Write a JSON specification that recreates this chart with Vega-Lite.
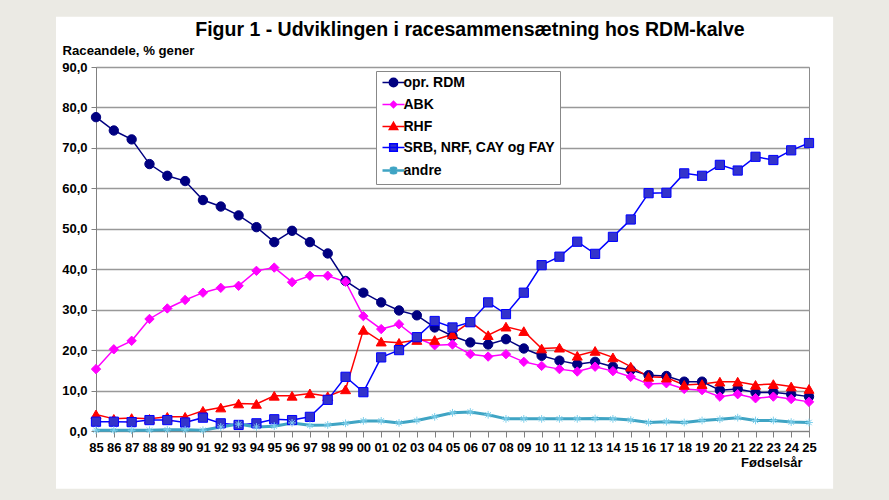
{
  "$schema": "https://vega.github.io/schema/vega-lite/v6.json",
  "width": 713,
  "height": 364,
  "autosize": {"type": "none"},
  "padding": {"left": 96, "top": 67, "right": 80, "bottom": 69},
  "background": "#ffffff",
  "config": {
    "font": "Liberation Sans",
    "view": {"stroke": "#8c8c8c", "strokeWidth": 1},
    "axisX": {
      "labelOverlap": false,
      "labelFlush": false,
      "labelAngle": 0,
      "labelFontSize": 13,
      "labelFontWeight": "bold",
      "labelColor": "#000000",
      "labelBaseline": "alphabetic",
      "labelPadding": 14,
      "tickSize": 6,
      "tickColor": "#808080",
      "domainColor": "#808080",
      "grid": false
    },
    "axisY": {
      "labelOverlap": false,
      "labelFontSize": 13,
      "labelFontWeight": "bold",
      "labelColor": "#000000",
      "labelPadding": 4,
      "tickSize": 5,
      "tickColor": "#808080",
      "domainColor": "#808080",
      "grid": true,
      "gridColor": "#999999",
      "gridWidth": 1.5
    }
  },
  "data": {
    "values": [
      {"year": 1985, "series": "opr. RDM", "share": 77.6},
      {"year": 1986, "series": "opr. RDM", "share": 74.3},
      {"year": 1987, "series": "opr. RDM", "share": 72.1},
      {"year": 1988, "series": "opr. RDM", "share": 66.0},
      {"year": 1989, "series": "opr. RDM", "share": 63.1},
      {"year": 1990, "series": "opr. RDM", "share": 61.8},
      {"year": 1991, "series": "opr. RDM", "share": 57.1},
      {"year": 1992, "series": "opr. RDM", "share": 55.5},
      {"year": 1993, "series": "opr. RDM", "share": 53.3},
      {"year": 1994, "series": "opr. RDM", "share": 50.4},
      {"year": 1995, "series": "opr. RDM", "share": 46.7},
      {"year": 1996, "series": "opr. RDM", "share": 49.5},
      {"year": 1997, "series": "opr. RDM", "share": 46.7},
      {"year": 1998, "series": "opr. RDM", "share": 43.9},
      {"year": 1999, "series": "opr. RDM", "share": 37.1},
      {"year": 2000, "series": "opr. RDM", "share": 34.2},
      {"year": 2001, "series": "opr. RDM", "share": 31.8},
      {"year": 2002, "series": "opr. RDM", "share": 29.8},
      {"year": 2003, "series": "opr. RDM", "share": 28.6},
      {"year": 2004, "series": "opr. RDM", "share": 25.6},
      {"year": 2005, "series": "opr. RDM", "share": 23.5},
      {"year": 2006, "series": "opr. RDM", "share": 21.9},
      {"year": 2007, "series": "opr. RDM", "share": 21.4},
      {"year": 2008, "series": "opr. RDM", "share": 22.7},
      {"year": 2009, "series": "opr. RDM", "share": 20.4},
      {"year": 2010, "series": "opr. RDM", "share": 18.6},
      {"year": 2011, "series": "opr. RDM", "share": 17.4},
      {"year": 2012, "series": "opr. RDM", "share": 16.5},
      {"year": 2013, "series": "opr. RDM", "share": 17.1},
      {"year": 2014, "series": "opr. RDM", "share": 15.9},
      {"year": 2015, "series": "opr. RDM", "share": 15.1},
      {"year": 2016, "series": "opr. RDM", "share": 13.8},
      {"year": 2017, "series": "opr. RDM", "share": 13.6},
      {"year": 2018, "series": "opr. RDM", "share": 12.2},
      {"year": 2019, "series": "opr. RDM", "share": 12.2},
      {"year": 2020, "series": "opr. RDM", "share": 10.1},
      {"year": 2021, "series": "opr. RDM", "share": 10.4},
      {"year": 2022, "series": "opr. RDM", "share": 9.5},
      {"year": 2023, "series": "opr. RDM", "share": 9.6},
      {"year": 2024, "series": "opr. RDM", "share": 9.1},
      {"year": 2025, "series": "opr. RDM", "share": 8.5},
      {"year": 1985, "series": "ABK", "share": 15.3},
      {"year": 1986, "series": "ABK", "share": 20.2},
      {"year": 1987, "series": "ABK", "share": 22.3},
      {"year": 1988, "series": "ABK", "share": 27.7},
      {"year": 1989, "series": "ABK", "share": 30.3},
      {"year": 1990, "series": "ABK", "share": 32.4},
      {"year": 1991, "series": "ABK", "share": 34.2},
      {"year": 1992, "series": "ABK", "share": 35.4},
      {"year": 1993, "series": "ABK", "share": 35.9},
      {"year": 1994, "series": "ABK", "share": 39.6},
      {"year": 1995, "series": "ABK", "share": 40.4},
      {"year": 1996, "series": "ABK", "share": 36.8},
      {"year": 1997, "series": "ABK", "share": 38.4},
      {"year": 1998, "series": "ABK", "share": 38.4},
      {"year": 1999, "series": "ABK", "share": 36.9},
      {"year": 2000, "series": "ABK", "share": 28.4},
      {"year": 2001, "series": "ABK", "share": 25.2},
      {"year": 2002, "series": "ABK", "share": 26.4},
      {"year": 2003, "series": "ABK", "share": 23.0},
      {"year": 2004, "series": "ABK", "share": 21.2},
      {"year": 2005, "series": "ABK", "share": 21.4},
      {"year": 2006, "series": "ABK", "share": 19.0},
      {"year": 2007, "series": "ABK", "share": 18.4},
      {"year": 2008, "series": "ABK", "share": 19.0},
      {"year": 2009, "series": "ABK", "share": 17.1},
      {"year": 2010, "series": "ABK", "share": 16.1},
      {"year": 2011, "series": "ABK", "share": 15.3},
      {"year": 2012, "series": "ABK", "share": 14.7},
      {"year": 2013, "series": "ABK", "share": 15.9},
      {"year": 2014, "series": "ABK", "share": 14.8},
      {"year": 2015, "series": "ABK", "share": 13.4},
      {"year": 2016, "series": "ABK", "share": 11.6},
      {"year": 2017, "series": "ABK", "share": 11.8},
      {"year": 2018, "series": "ABK", "share": 10.4},
      {"year": 2019, "series": "ABK", "share": 10.1},
      {"year": 2020, "series": "ABK", "share": 8.5},
      {"year": 2021, "series": "ABK", "share": 9.1},
      {"year": 2022, "series": "ABK", "share": 8.1},
      {"year": 2023, "series": "ABK", "share": 8.5},
      {"year": 2024, "series": "ABK", "share": 7.9},
      {"year": 2025, "series": "ABK", "share": 7.2},
      {"year": 1985, "series": "RHF", "share": 4.1},
      {"year": 1986, "series": "RHF", "share": 3.0},
      {"year": 1987, "series": "RHF", "share": 3.2},
      {"year": 1988, "series": "RHF", "share": 3.0},
      {"year": 1989, "series": "RHF", "share": 3.5},
      {"year": 1990, "series": "RHF", "share": 3.5},
      {"year": 1991, "series": "RHF", "share": 5.0},
      {"year": 1992, "series": "RHF", "share": 5.8},
      {"year": 1993, "series": "RHF", "share": 6.8},
      {"year": 1994, "series": "RHF", "share": 6.7},
      {"year": 1995, "series": "RHF", "share": 8.7},
      {"year": 1996, "series": "RHF", "share": 8.7},
      {"year": 1997, "series": "RHF", "share": 9.3},
      {"year": 1998, "series": "RHF", "share": 8.6},
      {"year": 1999, "series": "RHF", "share": 10.3},
      {"year": 2000, "series": "RHF", "share": 25.0},
      {"year": 2001, "series": "RHF", "share": 22.1},
      {"year": 2002, "series": "RHF", "share": 21.8},
      {"year": 2003, "series": "RHF", "share": 22.5},
      {"year": 2004, "series": "RHF", "share": 22.5},
      {"year": 2005, "series": "RHF", "share": 23.9},
      {"year": 2006, "series": "RHF", "share": 27.0},
      {"year": 2007, "series": "RHF", "share": 23.7},
      {"year": 2008, "series": "RHF", "share": 25.8},
      {"year": 2009, "series": "RHF", "share": 24.7},
      {"year": 2010, "series": "RHF", "share": 20.4},
      {"year": 2011, "series": "RHF", "share": 20.6},
      {"year": 2012, "series": "RHF", "share": 18.6},
      {"year": 2013, "series": "RHF", "share": 19.8},
      {"year": 2014, "series": "RHF", "share": 18.2},
      {"year": 2015, "series": "RHF", "share": 15.9},
      {"year": 2016, "series": "RHF", "share": 13.4},
      {"year": 2017, "series": "RHF", "share": 13.2},
      {"year": 2018, "series": "RHF", "share": 11.4},
      {"year": 2019, "series": "RHF", "share": 11.6},
      {"year": 2020, "series": "RHF", "share": 12.2},
      {"year": 2021, "series": "RHF", "share": 12.2},
      {"year": 2022, "series": "RHF", "share": 11.4},
      {"year": 2023, "series": "RHF", "share": 11.6},
      {"year": 2024, "series": "RHF", "share": 11.0},
      {"year": 2025, "series": "RHF", "share": 10.4},
      {"year": 1985, "series": "SRB, NRF, CAY og FAY", "share": 2.3},
      {"year": 1986, "series": "SRB, NRF, CAY og FAY", "share": 2.3},
      {"year": 1987, "series": "SRB, NRF, CAY og FAY", "share": 2.2},
      {"year": 1988, "series": "SRB, NRF, CAY og FAY", "share": 2.7},
      {"year": 1989, "series": "SRB, NRF, CAY og FAY", "share": 2.7},
      {"year": 1990, "series": "SRB, NRF, CAY og FAY", "share": 2.1},
      {"year": 1991, "series": "SRB, NRF, CAY og FAY", "share": 3.3},
      {"year": 1992, "series": "SRB, NRF, CAY og FAY", "share": 1.9},
      {"year": 1993, "series": "SRB, NRF, CAY og FAY", "share": 1.5},
      {"year": 1994, "series": "SRB, NRF, CAY og FAY", "share": 1.9},
      {"year": 1995, "series": "SRB, NRF, CAY og FAY", "share": 2.9},
      {"year": 1996, "series": "SRB, NRF, CAY og FAY", "share": 2.7},
      {"year": 1997, "series": "SRB, NRF, CAY og FAY", "share": 3.5},
      {"year": 1998, "series": "SRB, NRF, CAY og FAY", "share": 7.7},
      {"year": 1999, "series": "SRB, NRF, CAY og FAY", "share": 13.4},
      {"year": 2000, "series": "SRB, NRF, CAY og FAY", "share": 9.6},
      {"year": 2001, "series": "SRB, NRF, CAY og FAY", "share": 18.2},
      {"year": 2002, "series": "SRB, NRF, CAY og FAY", "share": 20.0},
      {"year": 2003, "series": "SRB, NRF, CAY og FAY", "share": 23.2},
      {"year": 2004, "series": "SRB, NRF, CAY og FAY", "share": 27.2},
      {"year": 2005, "series": "SRB, NRF, CAY og FAY", "share": 25.6},
      {"year": 2006, "series": "SRB, NRF, CAY og FAY", "share": 26.9},
      {"year": 2007, "series": "SRB, NRF, CAY og FAY", "share": 31.8},
      {"year": 2008, "series": "SRB, NRF, CAY og FAY", "share": 28.9},
      {"year": 2009, "series": "SRB, NRF, CAY og FAY", "share": 34.2},
      {"year": 2010, "series": "SRB, NRF, CAY og FAY", "share": 41.0},
      {"year": 2011, "series": "SRB, NRF, CAY og FAY", "share": 43.1},
      {"year": 2012, "series": "SRB, NRF, CAY og FAY", "share": 46.8},
      {"year": 2013, "series": "SRB, NRF, CAY og FAY", "share": 43.8},
      {"year": 2014, "series": "SRB, NRF, CAY og FAY", "share": 48.0},
      {"year": 2015, "series": "SRB, NRF, CAY og FAY", "share": 52.3},
      {"year": 2016, "series": "SRB, NRF, CAY og FAY", "share": 58.8},
      {"year": 2017, "series": "SRB, NRF, CAY og FAY", "share": 58.9},
      {"year": 2018, "series": "SRB, NRF, CAY og FAY", "share": 63.7},
      {"year": 2019, "series": "SRB, NRF, CAY og FAY", "share": 63.1},
      {"year": 2020, "series": "SRB, NRF, CAY og FAY", "share": 65.8},
      {"year": 2021, "series": "SRB, NRF, CAY og FAY", "share": 64.4},
      {"year": 2022, "series": "SRB, NRF, CAY og FAY", "share": 67.8},
      {"year": 2023, "series": "SRB, NRF, CAY og FAY", "share": 67.0},
      {"year": 2024, "series": "SRB, NRF, CAY og FAY", "share": 69.4},
      {"year": 2025, "series": "SRB, NRF, CAY og FAY", "share": 71.2},
      {"year": 1985, "series": "andre", "share": 0.2},
      {"year": 1986, "series": "andre", "share": 0.2},
      {"year": 1987, "series": "andre", "share": 0.2},
      {"year": 1988, "series": "andre", "share": 0.2},
      {"year": 1989, "series": "andre", "share": 0.3},
      {"year": 1990, "series": "andre", "share": 0.3},
      {"year": 1991, "series": "andre", "share": 0.2},
      {"year": 1992, "series": "andre", "share": 1.0},
      {"year": 1993, "series": "andre", "share": 1.7},
      {"year": 1994, "series": "andre", "share": 1.0},
      {"year": 1995, "series": "andre", "share": 1.2},
      {"year": 1996, "series": "andre", "share": 2.0},
      {"year": 1997, "series": "andre", "share": 1.4},
      {"year": 1998, "series": "andre", "share": 1.5},
      {"year": 1999, "series": "andre", "share": 1.9},
      {"year": 2000, "series": "andre", "share": 2.5},
      {"year": 2001, "series": "andre", "share": 2.5},
      {"year": 2002, "series": "andre", "share": 2.0},
      {"year": 2003, "series": "andre", "share": 2.6},
      {"year": 2004, "series": "andre", "share": 3.5},
      {"year": 2005, "series": "andre", "share": 4.5},
      {"year": 2006, "series": "andre", "share": 4.7},
      {"year": 2007, "series": "andre", "share": 4.0},
      {"year": 2008, "series": "andre", "share": 3.0},
      {"year": 2009, "series": "andre", "share": 3.0},
      {"year": 2010, "series": "andre", "share": 3.0},
      {"year": 2011, "series": "andre", "share": 3.0},
      {"year": 2012, "series": "andre", "share": 3.0},
      {"year": 2013, "series": "andre", "share": 3.1},
      {"year": 2014, "series": "andre", "share": 3.0},
      {"year": 2015, "series": "andre", "share": 2.7},
      {"year": 2016, "series": "andre", "share": 2.1},
      {"year": 2017, "series": "andre", "share": 2.3},
      {"year": 2018, "series": "andre", "share": 2.1},
      {"year": 2019, "series": "andre", "share": 2.6},
      {"year": 2020, "series": "andre", "share": 2.9},
      {"year": 2021, "series": "andre", "share": 3.3},
      {"year": 2022, "series": "andre", "share": 2.6},
      {"year": 2023, "series": "andre", "share": 2.6},
      {"year": 2024, "series": "andre", "share": 2.2},
      {"year": 2025, "series": "andre", "share": 2.1}
    ]
  },
  "layer": [
    {
      "data": {"values": [{}]},
      "mark": {"type": "rect", "filled": false, "stroke": "#ebeae4", "strokeWidth": 120, "strokeJoin": "miter"},
      "encoding": {
        "x": {"datum": 1979.39, "type": "quantitative"},
        "x2": {"datum": 2029.72},
        "y": {"datum": -29.14, "type": "quantitative"},
        "y2": {"datum": 117.24}
      }
    },
    {
      "data": {"values": [{"heading": "Figur 1 - Udviklingen i racesammensætning hos RDM-kalve"}]},
      "mark": {"type": "text", "fontSize": 19.5, "fontWeight": "bold", "color": "#000000", "align": "center", "baseline": "alphabetic"},
      "encoding": {
        "x": {"datum": 2005.98, "type": "quantitative"},
        "y": {"datum": 97.67, "type": "quantitative"},
        "text": {"field": "heading", "type": "nominal"}
      }
    },
    {
      "mark": {"type": "line"},
      "encoding": {
        "x": {
          "field": "year",
          "type": "quantitative",
          "scale": {"domain": [1985, 2025], "nice": false, "zero": false},
          "axis": {
            "title": "Fødselsår",
            "values": [1985, 1986, 1987, 1988, 1989, 1990, 1991, 1992, 1993, 1994, 1995, 1996, 1997, 1998, 1999, 2000, 2001, 2002, 2003, 2004, 2005, 2006, 2007, 2008, 2009, 2010, 2011, 2012, 2013, 2014, 2015, 2016, 2017, 2018, 2019, 2020, 2021, 2022, 2023, 2024, 2025],
            "tickCount": 60,
            "labelExpr": "substring(format(datum.value, 'd'), 2)",
            "labelOverlap": false,
            "labelFontSize": 13,
            "labelFontWeight": "bold",
            "labelColor": "#000000",
            "titleFontSize": 13,
            "titleFontWeight": "bold",
            "titleColor": "#000000",
            "titleAnchor": null,
            "titleX": 706,
            "titleY": 35,
            "titleAlign": "right",
            "titleBaseline": "alphabetic"
          }
        },
        "y": {
          "field": "share",
          "type": "quantitative",
          "scale": {"domain": [0, 90], "nice": false},
          "axis": {
            "title": "Raceandele, % gener",
            "values": [0, 10, 20, 30, 40, 50, 60, 70, 80, 90],
            "tickCount": 20,
            "labelExpr": "replace(format(datum.value, '.1f'), '.', ',')",
            "titleFontSize": 13.2,
            "titleFontWeight": "bold",
            "titleColor": "#000000",
            "titleAngle": 0,
            "titleAnchor": null,
            "titleX": -34,
            "titleY": -13,
            "titleAlign": "left",
            "titleBaseline": "alphabetic"
          }
        },
        "color": {
          "field": "series",
          "type": "nominal",
          "scale": {
            "domain": ["opr. RDM", "ABK", "RHF", "SRB, NRF, CAY og FAY", "andre"],
            "range": ["#000080", "#ff00ff", "#ff0000", "#0000ff", "#3fa4c4"]
          },
          "legend": {
            "orient": "none",
            "legendX": 280,
            "legendY": 4,
            "title": null,
            "fillColor": "#ffffff",
            "strokeColor": "#888888",
            "padding": 4.5,
            "labelFontSize": 14,
            "labelFontWeight": "bold",
            "labelColor": "#000000",
            "symbolSize": 64,
            "symbolOffset": 6,
            "labelOffset": 3,
            "rowPadding": 7,
            "encode": {
              "symbols": {
                "update": {
                  "shape": {"signal": "datum.value === 'opr. RDM' ? 'M-2.75,0H2.75M1.05,0A1.05,1.05,0,1,1,-1.05,0A1.05,1.05,0,1,1,1.05,0Z' : datum.value === 'ABK' ? 'M-2.75,0H2.75M0,-0.8L0.8,0L0,0.8L-0.8,0Z' : datum.value === 'RHF' ? 'M-2.75,0H2.75M0,-1.05L1.05,0.75L-1.05,0.75Z' : datum.value === 'andre' ? 'M-2.75,0H2.75M-0.8,-0.8L0.8,0.8M-0.8,0.8L0.8,-0.8M0,-1V1' : 'M-2.75,0H2.75M-0.95,-0.95H0.95V0.95H-0.95Z'"},
                  "fill": {"signal": "datum.value === 'opr. RDM' ? '#000080' : datum.value === 'ABK' ? '#ff00ff' : datum.value === 'RHF' ? '#ff0000' : datum.value === 'andre' ? 'transparent' : '#3333cc'"},
                  "stroke": {"signal": "datum.value === 'opr. RDM' ? '#000080' : datum.value === 'ABK' ? '#ff00ff' : datum.value === 'RHF' ? '#ff0000' : datum.value === 'andre' ? '#3fa4c4' : '#0000ff'"},
                  "strokeWidth": {"signal": "datum.value === 'andre' ? 2.5 : 1.5"},
                  "opacity": {"value": 1}
                }
              }
            }
          }
        },
        "strokeWidth": {
          "condition": {"test": "datum.series === 'andre'", "value": 3},
          "value": 1.5
        }
      }
    },
    {
      "transform": [{"filter": {"field": "series", "equal": "opr. RDM"}}],
      "mark": {"type": "point", "shape": "circle", "filled": true, "fill": "#000080", "stroke": "#000080", "strokeWidth": 1, "size": 88, "opacity": 1},
      "encoding": {
        "x": {"field": "year", "type": "quantitative"},
        "y": {"field": "share", "type": "quantitative"}
      }
    },
    {
      "transform": [{"filter": {"field": "series", "equal": "ABK"}}],
      "mark": {"type": "point", "shape": "diamond", "filled": true, "fill": "#ff00ff", "stroke": "#ff00ff", "strokeWidth": 1, "size": 88, "opacity": 1},
      "encoding": {
        "x": {"field": "year", "type": "quantitative"},
        "y": {"field": "share", "type": "quantitative"}
      }
    },
    {
      "transform": [{"filter": {"field": "series", "equal": "RHF"}}],
      "mark": {"type": "point", "shape": "triangle-up", "filled": true, "fill": "#ff0000", "stroke": "#ff0000", "strokeWidth": 1, "size": 100, "opacity": 1},
      "encoding": {
        "x": {"field": "year", "type": "quantitative"},
        "y": {"field": "share", "type": "quantitative"}
      }
    },
    {
      "transform": [{"filter": {"field": "series", "equal": "SRB, NRF, CAY og FAY"}}],
      "mark": {"type": "point", "shape": "square", "filled": true, "fill": "#3333cc", "stroke": "#0000ff", "strokeWidth": 1, "size": 85, "opacity": 1},
      "encoding": {
        "x": {"field": "year", "type": "quantitative"},
        "y": {"field": "share", "type": "quantitative"}
      }
    },
    {
      "transform": [{"filter": {"field": "series", "equal": "andre"}}],
      "mark": {"type": "point", "shape": "M-1,0H1M0,-1V1M-0.7,-0.7L0.7,0.7M-0.7,0.7L0.7,-0.7", "filled": false, "stroke": "#7fd0ec", "strokeWidth": 1, "size": 60, "opacity": 1},
      "encoding": {
        "x": {"field": "year", "type": "quantitative"},
        "y": {"field": "share", "type": "quantitative"}
      }
    }
  ]
}
